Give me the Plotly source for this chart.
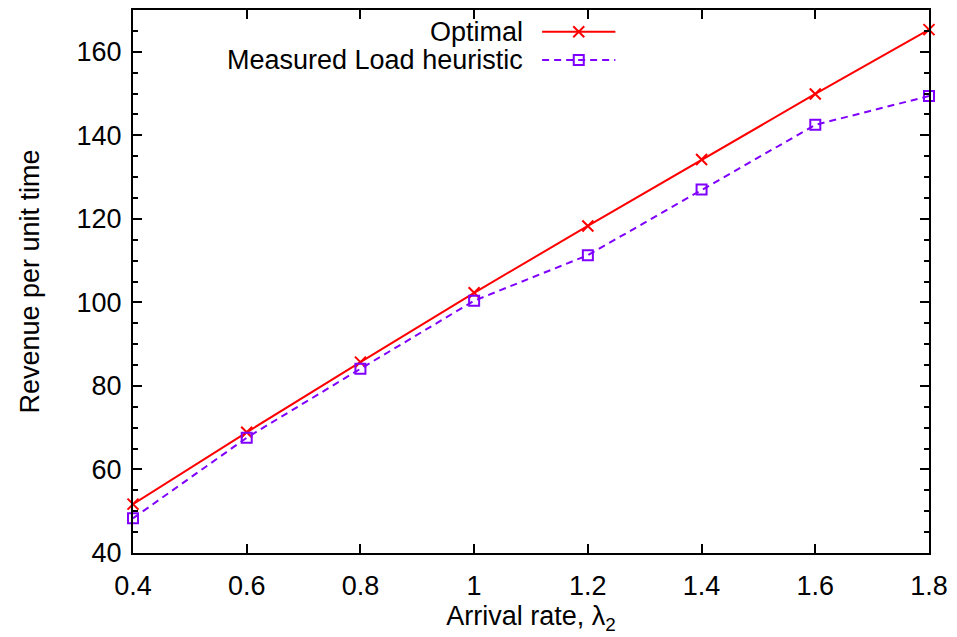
import plotly.graph_objects as go

arrival_rate = [0.4, 0.6, 0.8, 1.0, 1.2, 1.4, 1.6, 1.8]
optimal = [51.7, 68.9, 85.7, 102.3, 118.3, 134.2, 149.9, 165.3]
measured_load = [48.3, 67.6, 84.1, 100.4, 111.3, 127.0, 142.5, 149.4]
series_names = ["Optimal", "Measured Load heuristic"]
x_ticks = [0.4, 0.6, 0.8, 1.0, 1.2, 1.4, 1.6, 1.8]
x_tick_labels = ["0.4", "0.6", "0.8", "1", "1.2", "1.4", "1.6", "1.8"]
y_ticks = [40, 60, 80, 100, 120, 140, 160]

RED = "#ff0000"
PURPLE = "#7f00ff"
FONT = "Liberation Sans, Arial, sans-serif"
FS = 27
DASH = "7px,5px"

fig = go.Figure()
fig.add_trace(go.Scatter(
    x=arrival_rate, y=optimal, mode="lines+markers", name=series_names[0],
    line=dict(color=RED, width=2), cliponaxis=False,
    marker=dict(symbol="x-thin-open", size=11, line=dict(color=RED, width=2)),
    showlegend=False))
fig.add_trace(go.Scatter(
    x=arrival_rate, y=measured_load, mode="lines+markers", name=series_names[1],
    line=dict(color=PURPLE, width=2, dash=DASH), cliponaxis=False,
    marker=dict(symbol="square-open", size=10, color=PURPLE, line=dict(color=PURPLE, width=2)),
    showlegend=False))

# legend samples (key on the right side, gnuplot style) on an overlay axis 0..1
leg_x = [0.514, 0.560, 0.606]
leg_y = [0.960, 0.908]
fig.add_trace(go.Scatter(
    x=leg_x, y=[leg_y[0]] * 3, xaxis="x2", yaxis="y2", mode="lines+markers",
    line=dict(color=RED, width=2),
    marker=dict(symbol="x-thin-open", size=11, line=dict(color=RED, width=2)),
    selectedpoints=[1], unselected=dict(marker=dict(opacity=0)),
    showlegend=False, hoverinfo="skip"))
fig.add_trace(go.Scatter(
    x=leg_x, y=[leg_y[1]] * 3, xaxis="x2", yaxis="y2", mode="lines+markers",
    line=dict(color=PURPLE, width=2, dash=DASH),
    marker=dict(symbol="square-open", size=10, color=PURPLE, line=dict(color=PURPLE, width=2)),
    selectedpoints=[1], unselected=dict(marker=dict(opacity=0)),
    showlegend=False, hoverinfo="skip"))

for name, yy in zip(series_names, leg_y):
    fig.add_annotation(x=0.492, y=yy, xref="paper", yref="paper", text=name,
                       showarrow=False, xanchor="right", yanchor="middle",
                       font=dict(family=FONT, size=FS, color="black"))

fig.update_layout(
    width=957, height=637,
    margin=dict(l=133, r=28, t=8, b=84),
    paper_bgcolor="white", plot_bgcolor="white",
    font=dict(family=FONT, size=FS, color="black"),
    xaxis=dict(range=[0.4, 1.8], tickvals=x_ticks, ticktext=x_tick_labels,
               ticks="inside", ticklen=9, tickwidth=1.5, tickcolor="black",
               showline=True, linecolor="black", linewidth=2, mirror="ticks",
               showgrid=False, zeroline=False, ticklabelstandoff=8,
               title=dict(text="Arrival rate, λ<sub>2</sub>", standoff=6,
                          font=dict(size=FS))),
    yaxis=dict(range=[40, 170], tickvals=y_ticks,
               ticks="inside", ticklen=9, tickwidth=1.5, tickcolor="black",
               minor=dict(dtick=5, tick0=40, ticks="inside", ticklen=5,
                          tickwidth=1.5, tickcolor="black"),
               showline=True, linecolor="black", linewidth=2, mirror="ticks",
               showgrid=False, zeroline=False, ticklabelstandoff=4,
               title=dict(text="Revenue per unit time", standoff=29,
                          font=dict(size=FS))),
    xaxis2=dict(range=[0, 1], overlaying="x", visible=False, fixedrange=True),
    yaxis2=dict(range=[0, 1], overlaying="y", visible=False, fixedrange=True),
)

fig.write_html("out.html")
